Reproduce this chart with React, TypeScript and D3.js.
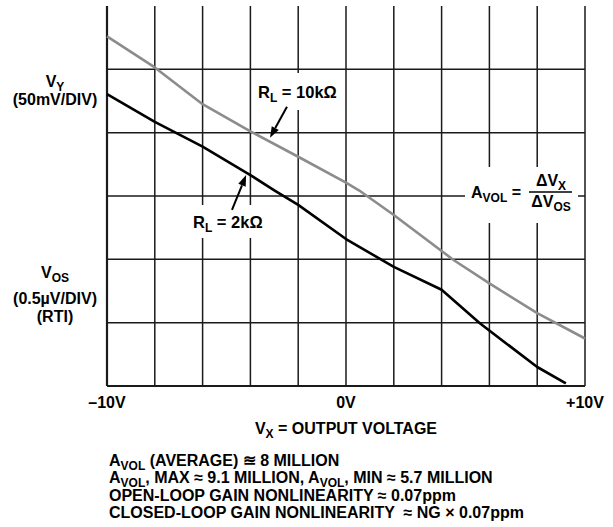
import React from "react";
import * as d3 from "d3";

// ---- data (x in volts, y in vertical divisions from the bottom grid line) ----
const xTicks = [-10, -8, -6, -4, -2, 0, 2, 4, 6, 8, 10];
const yDivs = [0, 1, 2, 3, 4, 5];
const xTickLabels = [
  { v: -10, t: "–10V" },
  { v: 0, t: "0V" },
  { v: 10, t: "+10V" },
];
const x10k = [-10, -8, -6, -4, -2, 0, 0.54, 2, 4.5, 6, 8, 10];
const y10k = [5.52, 5.03, 4.45, 4.02, 3.62, 3.21, 3.09, 2.7, 1.99, 1.62, 1.15, 0.75];
const x2k = [-10, -8, -6, -4, -3, -2, 0, 2, 4, 5.6, 8, 9.2];
const y2k = [4.61, 4.17, 3.78, 3.33, 3.09, 2.86, 2.32, 1.88, 1.52, 0.99, 0.3, 0.04];
const notes = [
  [["A", ""], ["VOL", "sub"], [" (AVERAGE) ≊ 8 MILLION", ""]],
  [["A", ""], ["VOL", "sub"], [", MAX ≈ 9.1 MILLION, A", ""], ["VOL", "sub"], [", MIN ≈ 5.7 MILLION", ""]],
  [["OPEN-LOOP GAIN NONLINEARITY ≈ 0.07ppm", ""]],
  [["CLOSED-LOOP GAIN NONLINEARITY  ≈ NG × 0.07ppm", ""]],
];

const W = 613;
const H = 527;
const FONT = "'Liberation Sans', Arial, Helvetica, sans-serif";

const x = d3.scaleLinear().domain([-10, 10]).range([107, 585]);
const y = d3.scaleLinear().domain([0, 6]).range([386, 6]);

const line = d3
  .line<[number, number]>()
  .x((d) => x(d[0]))
  .y((d) => y(d[1]));

function Arrow({ x1, y1, x2, y2 }: { x1: number; y1: number; x2: number; y2: number }) {
  const ang = Math.atan2(y2 - y1, x2 - x1);
  const L = 11;
  const w = 4;
  const bx = x2 - L * Math.cos(ang);
  const by = y2 - L * Math.sin(ang);
  const px = -Math.sin(ang) * w;
  const py = Math.cos(ang) * w;
  return (
    <g>
      <line x1={x1} y1={y1} x2={bx} y2={by} stroke="#000" strokeWidth={2} />
      <path d={`M${x2},${y2}L${bx + px},${by + py}L${bx - px},${by - py}Z`} fill="#000" />
    </g>
  );
}

export default function App() {
  const d10 = line(x10k.map((v, i) => [v, y10k[i]] as [number, number])) || "";
  const d2 = line(x2k.map((v, i) => [v, y2k[i]] as [number, number])) || "";
  return (
    <svg
      width={W}
      height={H}
      style={{ position: "absolute", left: 0, top: 0, background: "#fff" }}
      fontFamily={FONT}
      fontWeight="bold"
    >
      {/* grid */}
      {xTicks.map((v) => (
        <line key={"v" + v} x1={x(v)} x2={x(v)} y1={y(6)} y2={y(0)} stroke="#1a1a1a"
          strokeWidth={v === -10 ? 2.2 : 1.5} />
      ))}
      {yDivs.map((v) => (
        <line key={"h" + v} x1={x(-10)} x2={x(10)} y1={y(v)} y2={y(v)} stroke="#1a1a1a"
          strokeWidth={v === 0 ? 2 : 1.5} />
      ))}

      {/* curves */}
      <path d={d10} fill="none" stroke="#8c8c8c" strokeWidth={2.6} strokeLinejoin="round" />
      <path d={d2} fill="none" stroke="#000" strokeWidth={2.6} strokeLinejoin="round" />

      {/* label boxes */}
      <rect x={252} y={73} width={90} height={37} fill="#fff" />
      <rect x={190} y={205} width={74} height={33} fill="#fff" />
      <rect x={465} y={167} width={113} height={56} fill="#fff" />

      {/* R_L = 10k */}
      <text x={258} y={98} fontSize={16.5}>
        R<tspan fontSize={12} dy={4}>L</tspan>
        <tspan dy={-4}> = 10kΩ</tspan>
      </text>
      <Arrow x1={x(-2.47)} y1={y(4.41)} x2={x(-3.18)} y2={y(3.92)} />

      {/* R_L = 2k */}
      <text x={193} y={228} fontSize={16.5}>
        R<tspan fontSize={12} dy={4}>L</tspan>
        <tspan dy={-4}> = 2kΩ</tspan>
      </text>
      <Arrow x1={x(-4.77)} y1={y(2.78)} x2={x(-4.18)} y2={y(3.33)} />

      {/* A_VOL formula */}
      <text x={471} y={198} fontSize={16}>
        A<tspan fontSize={12} dy={4}>VOL</tspan>
        <tspan dy={-4}> =</tspan>
      </text>
      <line x1={529} x2={572} y1={192} y2={192} stroke="#000" strokeWidth={1.5} />
      <text x={551} y={186} fontSize={16} textAnchor="middle">
        ΔV<tspan fontSize={12} dy={4}>X</tspan>
      </text>
      <text x={551} y={207} fontSize={16} textAnchor="middle">
        ΔV<tspan fontSize={12} dy={4}>OS</tspan>
      </text>

      {/* left labels */}
      <text x={55} y={87} fontSize={16} textAnchor="middle">
        V<tspan fontSize={12} dy={4}>Y</tspan>
      </text>
      <text x={55} y={105} fontSize={16} textAnchor="middle">(50mV/DIV)</text>
      <text x={55} y={278} fontSize={16} textAnchor="middle">
        V<tspan fontSize={12} dy={4}>OS</tspan>
      </text>
      <text x={55} y={304} fontSize={16} textAnchor="middle">(0.5µV/DIV)</text>
      <text x={55} y={322} fontSize={16} textAnchor="middle">(RTI)</text>

      {/* x tick labels */}
      {xTickLabels.map((t) => (
        <text key={t.t} x={x(t.v)} y={408} fontSize={16} textAnchor="middle">{t.t}</text>
      ))}
      <text x={x(0)} y={434} fontSize={16} textAnchor="middle">
        V<tspan fontSize={12} dy={4}>X</tspan>
        <tspan dy={-4}> = OUTPUT VOLTAGE</tspan>
      </text>

      {/* notes */}
      {notes.map((parts, i) => (
        <text key={i} x={109} y={466 + i * 17.3} fontSize={16} style={{ whiteSpace: "pre" }}>
          {parts.map((p, j) => {
            const prevSub = j > 0 && parts[j - 1][1] === "sub";
            if (p[1] === "sub")
              return (
                <tspan key={j} fontSize={12} dy={4}>{p[0]}</tspan>
              );
            return (
              <tspan key={j} dy={prevSub ? -4 : 0}>{p[0]}</tspan>
            );
          })}
        </text>
      ))}
    </svg>
  );
}
